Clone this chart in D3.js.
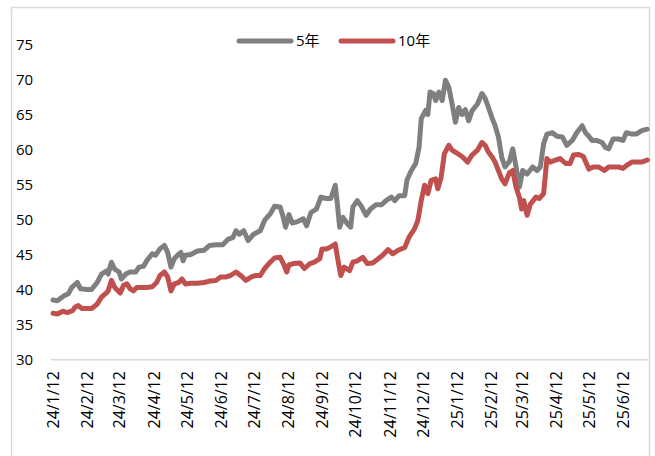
<!DOCTYPE html>
<html><head><meta charset="utf-8">
<script src="https://cdn.jsdelivr.net/npm/d3@7"></script>
<style>
html,body{margin:0;padding:0;background:#fff;}
svg{display:block;}
text{font-family:"Open Sans","Noto Sans CJK SC",sans-serif;fill:#000;}
</style></head>
<body><svg id="c" width="655" height="456"></svg>
<script>
const seriesNames = ["5年", "10年"];
const seriesColors = ["#7f7f7f", "#c0504d"];
const yTicks = [30, 35, 40, 45, 50, 55, 60, 65, 70, 75];
const xTickLabels = ["24/1/12","24/2/12","24/3/12","24/4/12","24/5/12","24/6/12","24/7/12","24/8/12","24/9/12","24/10/12","24/11/12","24/12/12","25/1/12","25/2/12","25/3/12","25/4/12","25/5/12","25/6/12"];

const fiveYearDates = ["2024-01-12","2024-01-16","2024-01-22","2024-01-26","2024-01-29","2024-02-03","2024-02-06","2024-02-12","2024-02-16","2024-02-21","2024-02-25","2024-03-01","2024-03-02","2024-03-05","2024-03-08","2024-03-12","2024-03-14","2024-03-18","2024-03-22","2024-03-27","2024-03-30","2024-04-03","2024-04-06","2024-04-11","2024-04-14","2024-04-18","2024-04-22","2024-04-25","2024-04-28","2024-05-01","2024-05-04","2024-05-07","2024-05-09","2024-05-11","2024-05-16","2024-05-22","2024-05-28","2024-06-02","2024-06-08","2024-06-14","2024-06-19","2024-06-23","2024-06-26","2024-06-29","2024-07-03","2024-07-07","2024-07-12","2024-07-18","2024-07-22","2024-07-27","2024-07-31","2024-08-05","2024-08-07","2024-08-10","2024-08-13","2024-08-16","2024-08-21","2024-08-26","2024-08-29","2024-09-02","2024-09-07","2024-09-11","2024-09-16","2024-09-20","2024-09-24","2024-09-26","2024-09-28","2024-10-01","2024-10-05","2024-10-08","2024-10-10","2024-10-14","2024-10-18","2024-10-22","2024-10-26","2024-10-31","2024-11-05","2024-11-09","2024-11-14","2024-11-17","2024-11-21","2024-11-26","2024-11-28","2024-12-02","2024-12-06","2024-12-09","2024-12-11","2024-12-15","2024-12-17","2024-12-19","2024-12-22","2024-12-24","2024-12-27","2024-12-30","2025-01-02","2025-01-05","2025-01-08","2025-01-11","2025-01-14","2025-01-17","2025-01-20","2025-01-23","2025-01-26","2025-01-31","2025-02-04","2025-02-07","2025-02-10","2025-02-13","2025-02-16","2025-02-19","2025-02-22","2025-02-25","2025-03-01","2025-03-04","2025-03-07","2025-03-10","2025-03-13","2025-03-17","2025-03-22","2025-03-26","2025-03-29","2025-04-01","2025-04-04","2025-04-09","2025-04-13","2025-04-18","2025-04-22","2025-04-27","2025-05-01","2025-05-06","2025-05-09","2025-05-12","2025-05-15","2025-05-19","2025-05-24","2025-05-27","2025-05-30","2025-06-03","2025-06-08","2025-06-12","2025-06-15","2025-06-20","2025-06-24","2025-06-29","2025-07-04"];
const fiveYearValues = [38.5,38.4,39.1,39.4,40.3,41.0,40.1,40.0,40.0,41.0,42.2,42.7,42.2,43.9,42.9,42.5,41.5,42.2,42.5,42.5,43.2,43.3,44.1,45.1,44.9,45.8,46.3,45.3,43.2,44.4,44.9,45.3,44.1,44.9,45.0,45.5,45.6,46.3,46.4,46.4,47.2,47.4,48.4,47.9,48.4,47.0,47.9,48.4,49.9,50.8,51.9,51.8,50.8,48.9,50.7,49.5,49.7,50.1,49.1,51.0,51.5,53.2,53.0,53.0,54.9,52.1,48.9,50.3,49.4,48.9,51.8,52.7,51.8,50.6,51.5,52.1,52.1,52.7,53.2,52.7,53.4,53.4,55.6,57.0,58.0,60.3,64.4,65.6,65.0,68.2,68.0,67.0,68.2,67.0,69.9,68.9,66.5,63.9,66.0,65.0,65.7,64.1,65.5,66.5,68.0,67.3,66.0,64.6,63.4,61.8,58.9,57.5,58.3,60.1,57.5,54.6,57.0,56.5,57.5,57.0,57.5,60.8,62.2,62.4,61.9,61.8,60.6,61.3,62.4,63.4,62.4,61.9,61.3,61.3,61.0,60.3,60.1,61.5,61.5,61.3,62.4,62.2,62.2,62.7,62.9];

const tenYearDates = ["2024-01-12","2024-01-16","2024-01-21","2024-01-25","2024-01-30","2024-02-01","2024-02-04","2024-02-07","2024-02-12","2024-02-16","2024-02-21","2024-02-25","2024-03-01","2024-03-02","2024-03-05","2024-03-08","2024-03-13","2024-03-16","2024-03-19","2024-03-22","2024-03-25","2024-03-28","2024-04-02","2024-04-06","2024-04-11","2024-04-15","2024-04-18","2024-04-22","2024-04-25","2024-04-28","2024-05-01","2024-05-05","2024-05-08","2024-05-11","2024-05-16","2024-05-22","2024-05-28","2024-06-02","2024-06-08","2024-06-12","2024-06-17","2024-06-21","2024-06-26","2024-07-01","2024-07-05","2024-07-10","2024-07-14","2024-07-18","2024-07-22","2024-07-27","2024-07-31","2024-08-05","2024-08-08","2024-08-11","2024-08-13","2024-08-17","2024-08-23","2024-08-27","2024-09-01","2024-09-05","2024-09-10","2024-09-12","2024-09-16","2024-09-19","2024-09-24","2024-09-26","2024-09-29","2024-10-02","2024-10-07","2024-10-10","2024-10-14","2024-10-19","2024-10-23","2024-10-28","2024-11-02","2024-11-06","2024-11-11","2024-11-15","2024-11-20","2024-11-26","2024-11-30","2024-12-05","2024-12-08","2024-12-11","2024-12-14","2024-12-17","2024-12-20","2024-12-24","2024-12-26","2024-12-29","2025-01-01","2025-01-05","2025-01-08","2025-01-13","2025-01-17","2025-01-22","2025-01-26","2025-01-31","2025-02-04","2025-02-07","2025-02-10","2025-02-13","2025-02-16","2025-02-19","2025-02-22","2025-02-25","2025-03-01","2025-03-04","2025-03-07","2025-03-10","2025-03-12","2025-03-14","2025-03-17","2025-03-20","2025-03-25","2025-03-28","2025-04-01","2025-04-04","2025-04-07","2025-04-12","2025-04-16","2025-04-21","2025-04-25","2025-04-28","2025-05-03","2025-05-07","2025-05-12","2025-05-16","2025-05-21","2025-05-26","2025-05-30","2025-06-03","2025-06-08","2025-06-12","2025-06-15","2025-06-20","2025-06-24","2025-06-29","2025-07-04"];
const tenYearValues = [36.6,36.5,36.9,36.7,37.0,37.5,37.7,37.3,37.3,37.3,37.9,38.9,39.6,39.8,41.3,40.3,39.5,40.6,40.8,40.1,39.8,40.3,40.3,40.3,40.4,41.0,42.0,42.5,41.8,39.8,40.8,41.0,41.5,40.8,40.9,40.9,41.0,41.2,41.3,41.8,41.8,42.0,42.5,41.9,41.3,41.8,42.0,42.0,43.0,43.9,44.5,44.6,43.7,42.5,43.5,43.7,43.8,43.0,43.7,43.9,44.4,45.8,45.8,46.0,46.5,44.6,42.0,43.2,42.7,43.9,44.1,44.6,43.7,43.8,44.4,44.9,45.7,45.1,45.6,46.0,47.5,48.7,49.9,52.7,54.9,53.7,55.6,55.8,54.4,56.0,59.4,60.6,59.9,59.4,59.0,58.2,59.2,59.9,61.0,60.6,59.6,59.0,58.2,57.0,55.8,55.1,56.7,57.0,54.6,53.2,51.5,52.7,50.6,52.2,53.2,53.0,53.7,58.7,58.2,58.5,58.7,58.0,58.0,59.2,59.3,59.0,57.2,57.5,57.5,57.0,57.5,57.5,57.5,57.3,57.7,58.2,58.2,58.2,58.5];

const parse = d3.timeParse("%Y-%m-%d");
const svg = d3.select("#c");
const FONT = '"Open Sans","Noto Sans CJK SC",sans-serif';

// outer frame
svg.append("rect").attr("x", 11.5).attr("y", 7.5).attr("width", 638).attr("height", 460)
  .attr("fill", "none").attr("stroke", "#d9d9d9").attr("stroke-width", 1.5);

const x = d3.scaleTime()
  .domain([parse("2024-01-12"), parse("2025-06-12")])
  .range([53, 623]);
const y = d3.scaleLinear().domain([30, 75]).range([359.5, 44.5]);

// y axis labels
const yAxis = d3.axisLeft(y).tickValues(yTicks).tickSize(0).tickPadding(0);
const yg = svg.append("g").attr("transform", "translate(16,0)").call(yAxis);
yg.select(".domain").remove();
yg.selectAll("text").attr("text-anchor", "start").attr("x", 0)
  .style("font-size", "15px").style("font-family", FONT).attr("fill", "#000");

// x axis
const xTickDates = xTickLabels.map(s => { const p = s.split("/"); return new Date(2000 + +p[0], +p[1] - 1, +p[2]); });
const xAxis = d3.axisBottom(x).tickValues(xTickDates).tickSize(0).tickPadding(0)
  .tickFormat((d, i) => xTickLabels[i]);
const xg = svg.append("g").attr("transform", "translate(0,359)").call(xAxis);
xg.select(".domain").remove();
xg.append("line").attr("x1", 51).attr("x2", 648).attr("y1", 0.75).attr("y2", 0.75)
  .attr("stroke", "#d9d9d9").attr("stroke-width", 1.5);
xg.selectAll(".tick text")
  .attr("transform", "rotate(-90)")
  .attr("x", -12).attr("y", 0).attr("dy", "0.36em")
  .attr("text-anchor", "end")
  .style("font-size", "16px").style("font-family", FONT).attr("fill", "#000");

// lines
const line = d3.line().x(d => x(d.date)).y(d => y(d.value)).curve(d3.curveLinear);
const series = [
  {name: seriesNames[0], color: seriesColors[0], data: fiveYearDates.map((d, i) => ({date: parse(d), value: fiveYearValues[i]}))},
  {name: seriesNames[1], color: seriesColors[1], data: tenYearDates.map((d, i) => ({date: parse(d), value: tenYearValues[i]}))}
];
series.forEach(s => {
  svg.append("path").datum(s.data).attr("d", line)
    .attr("fill", "none").attr("stroke", s.color).attr("stroke-width", 5)
    .attr("stroke-linejoin", "round").attr("stroke-linecap", "round");
});

// legend
const legend = svg.append("g").attr("transform", "translate(239,41)");
const legendOffsets = [0, 102];
series.forEach((s, i) => {
  const g = legend.append("g").attr("transform", `translate(${legendOffsets[i]},0)`);
  g.append("line").attr("x1", 0).attr("x2", 52).attr("y1", 0).attr("y2", 0)
    .attr("stroke", s.color).attr("stroke-width", 5).attr("stroke-linecap", "round");
  g.append("text").attr("x", 57).attr("y", 0).attr("dy", "0.36em")
    .style("font-size", "15px").style("font-family", FONT).text(s.name);
});
</script></body></html>
